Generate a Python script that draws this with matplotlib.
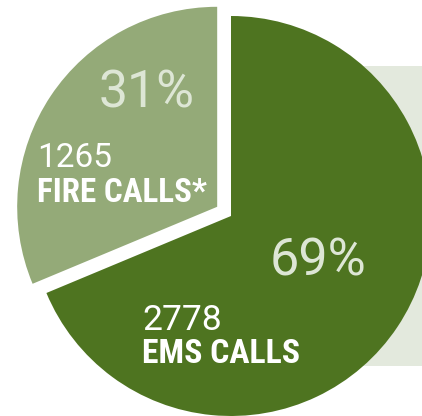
import matplotlib
matplotlib.use("Agg")
import matplotlib.pyplot as plt
from matplotlib import font_manager as fm
from matplotlib.patches import Rectangle

# data
categories = ["FIRE CALLS*", "EMS CALLS"]
counts = [1265, 2778]
percent_labels = ["31%", "69%"]
count_labels = ["1265", "2778"]

DARK = "#4e7420"
LIGHT = "#94aa78"
RECT = "#e3e9dd"
PCT_COLOR = "#dde6d5"

names = {f.name for f in fm.fontManager.ttflist}
cond_family = None
for n in ["Roboto Condensed", "Liberation Sans Narrow", "Open Sans Condensed", "Arial Narrow"]:
    if n in names:
        cond_family = n
        break
if cond_family is None:
    cond_family = "Roboto"

fig = plt.figure(figsize=(4.22, 4.16), dpi=100)
ax = fig.add_axes([0, 0, 1, 1])
ax.axis("off")

ax.add_patch(Rectangle((231, 50), 200, 300, facecolor=RECT, edgecolor="none", zorder=0))

wedges, _ = ax.pie(counts, colors=[LIGHT, DARK], startangle=90, counterclock=True,
                   center=(231, 200), radius=200, explode=[16.6, 0],
                   wedgeprops=dict(linewidth=0))
for w in wedges:
    w.set_zorder(1)

ax.set_xlim(0, 422)
ax.set_ylim(0, 416)
ax.set_aspect("auto")

fig.canvas.draw()
renderer = fig.canvas.get_renderer()


def fit_text(x, y, s, width, size, **kw):
    t = ax.text(x, y, s, fontsize=size, va="baseline", ha="left", zorder=3, **kw)
    bb = t.get_window_extent(renderer)
    t.set_fontsize(size * width / bb.width)
    return t


fit_text(99, 309, percent_labels[0], 96, 35, color=PCT_COLOR, family="Roboto", weight="normal")
fit_text(270, 140, percent_labels[1], 97, 35, color=PCT_COLOR, family="Roboto", weight="normal")
fit_text(37, 249, count_labels[0], 75, 25, color="white", family="Roboto", weight="normal")
fit_text(142, 86, count_labels[1], 80, 25, color="white", family="Roboto", weight="normal")
fit_text(37, 214, categories[0], 170, 25, color="white", family=cond_family, weight="bold")
fit_text(142, 53, categories[1], 158, 25, color="white", family=cond_family, weight="bold")

fig.savefig("out.png", dpi=100)
